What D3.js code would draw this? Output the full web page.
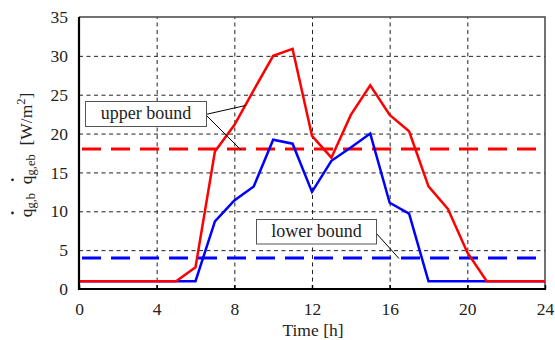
<!DOCTYPE html>
<html>
<head>
<meta charset="utf-8">
<script src="https://cdn.jsdelivr.net/npm/d3@7"></script>
<style>
  body { margin: 0; background: #fff; }
</style>
</head>
<body>
<div id="chart"></div>
<script>
// hourly values
const hours = d3.range(0, 25);
const upperSeries = [1, 1, 1, 1, 1, 1, 2.8, 17.7, 21.1, 25.6, 30, 30.9, 19.7, 16.9, 22.4, 26.2, 22.4, 20.3, 13.2, 10.3, 4.7, 1, 1, 1, 1];
const lowerSeries = [1, 1, 1, 1, 1, 1, 1, 8.7, 11.4, 13.2, 19.2, 18.7, 12.5, 16.5, 18.2, 20, 11.1, 9.7, 1, 1, 1, 1, 1, 1, 1];
const upperBound = 18;
const lowerBound = 4;
const xTicks = [0, 4, 8, 12, 16, 20, 24];
const yTicks = [0, 5, 10, 15, 20, 25, 30, 35];

const FONT = "'Liberation Serif', 'Times New Roman', Times, serif";
const FS = 17.5;
const width = 555, height = 340;
const margin = { top: 17, right: 10, bottom: 51, left: 79 };
const plotW = 545 - margin.left;
const plotH = 289 - margin.top;

const svg = d3.select("#chart").append("svg")
    .attr("width", width)
    .attr("height", height)
    .attr("font-family", FONT);

const g = svg.append("g")
    .attr("transform", `translate(${margin.left},${margin.top})`);

const x = d3.scaleLinear().domain([0, 24]).range([0, plotW]);
const y = d3.scaleLinear().domain([0, 35]).range([plotH, 0]);

// dashed grid
g.append("g")
    .call(d3.axisLeft(y).tickValues(yTicks.slice(1, -1)).tickSize(-plotW).tickFormat(""))
    .call(s => s.select(".domain").remove())
    .selectAll("line")
    .attr("stroke", "#222")
    .attr("stroke-dasharray", "4,3.5");

g.append("g")
    .attr("transform", `translate(0,${plotH})`)
    .call(d3.axisBottom(x).tickValues(xTicks.slice(1, -1)).tickSize(-plotH).tickFormat(""))
    .call(s => s.select(".domain").remove())
    .selectAll("line")
    .attr("stroke", "#222")
    .attr("stroke-dasharray", "4,3.5");

// frame: thin top/right, heavy left/bottom
g.append("path")
    .attr("d", `M0,0H${plotW}V${plotH}`)
    .attr("fill", "none")
    .attr("stroke", "#444")
    .attr("stroke-width", 1.5);

// bound lines
const bounds = [
    { v: upperBound, color: "#ff0000" },
    { v: lowerBound, color: "#0000ff" },
];
g.selectAll(".bound")
    .data(bounds)
    .join("line")
    .attr("class", "bound")
    .attr("x1", 0)
    .attr("x2", plotW)
    .attr("y1", d => y(d.v))
    .attr("y2", d => y(d.v))
    .attr("stroke", d => d.color)
    .attr("stroke-width", 3)
    .attr("stroke-dasharray", "19,10")
    .attr("stroke-dashoffset", -3);

// series lines
const line = d3.line()
    .x((d, i) => x(hours[i]))
    .y(d => y(d));

g.append("path")
    .datum(lowerSeries)
    .attr("fill", "none")
    .attr("stroke", "#0000ff")
    .attr("stroke-width", 2.5)
    .attr("d", line);

g.append("path")
    .datum(upperSeries)
    .attr("fill", "none")
    .attr("stroke", "#ff0000")
    .attr("stroke-width", 2.5)
    .attr("d", line);

// axes
const xAxis = g.append("g")
    .attr("transform", `translate(0,${plotH})`)
    .call(d3.axisBottom(x).tickValues(xTicks).tickSize(-4).tickPadding(13.6));
xAxis.attr("font-family", FONT).attr("font-size", FS);
xAxis.select(".domain").remove();
xAxis.selectAll("line").attr("stroke", "#000").attr("stroke-width", 1.5);
xAxis.selectAll("text").attr("fill", "#222");

const yAxis = g.append("g")
    .call(d3.axisLeft(y).tickValues(yTicks).tickSize(0).tickPadding(11));
yAxis.attr("font-family", FONT).attr("font-size", FS);
yAxis.select(".domain").remove();
yAxis.selectAll("text").attr("fill", "#222");

g.append("line")
    .attr("x1", 0).attr("x2", 0)
    .attr("y1", 0).attr("y2", plotH + 1)
    .attr("stroke", "#000").attr("stroke-width", 2.2);
g.append("line")
    .attr("x1", -1).attr("x2", plotW + 1)
    .attr("y1", plotH).attr("y2", plotH)
    .attr("stroke", "#000").attr("stroke-width", 2.2);

// x title
svg.append("text")
    .attr("x", 313)
    .attr("y", 336)
    .attr("text-anchor", "middle")
    .attr("font-size", FS)
    .attr("fill", "#222")
    .text("Time [h]");

// y title, rotated, with dots over the q's
const yLab = svg.append("g")
    .attr("transform", "translate(32,155) rotate(-90)");
const yText = yLab.append("text")
    .attr("text-anchor", "middle")
    .attr("font-size", FS)
    .attr("fill", "#222");
yText.append("tspan").text("q");
yText.append("tspan").attr("font-size", 12.5).attr("dy", 3).text("g,b");
yText.append("tspan").attr("dy", -3).text("\u2002q");
yText.append("tspan").attr("font-size", 12.5).attr("dy", 3).text("g,eb");
yText.append("tspan").attr("dy", -3).text("\u2002[W/m");
yText.append("tspan").attr("font-size", 12.5).attr("dy", -7).text("2");
yText.append("tspan").attr("dy", 7).text("]");

const labelStr = yText.text();
[0, labelStr.indexOf("q", 1)].forEach(i => {
    const box = yText.node().getExtentOfChar(i);
    yLab.append("circle")
        .attr("cx", box.x + box.width / 2)
        .attr("cy", -19.5)
        .attr("r", 1.4)
        .attr("fill", "#222");
});

// annotation boxes with leader lines
const notes = [
    { text: "upper bound", x0: 85, y0: 101, w: 121, h: 25, tx: 205.5, ty: 114.5,
      ends: [[245.5, 105.5], [241, 150]] },
    { text: "lower bound", x0: 256, y0: 219, w: 120, h: 24.5, tx: 376, ty: 233,
      ends: [[331, 219.5], [399, 258.5]] },
];
notes.forEach(n => {
    n.ends.forEach(([ex, ey]) => {
        svg.append("line")
            .attr("x1", n.tx).attr("y1", n.ty)
            .attr("x2", ex).attr("y2", ey)
            .attr("stroke", "#000")
            .attr("stroke-width", 1);
    });
    svg.append("rect")
        .attr("x", n.x0 + 0.5).attr("y", n.y0 + 0.5)
        .attr("width", n.w).attr("height", n.h)
        .attr("fill", "#fff")
        .attr("stroke", "#555")
        .attr("stroke-width", 1);
    svg.append("text")
        .attr("x", n.x0 + n.w / 2 + 0.5)
        .attr("y", n.y0 + n.h / 2 + 5.5)
        .attr("text-anchor", "middle")
        .attr("font-size", 18)
        .attr("fill", "#222")
        .text(n.text);
});
</script>
</body>
</html>
